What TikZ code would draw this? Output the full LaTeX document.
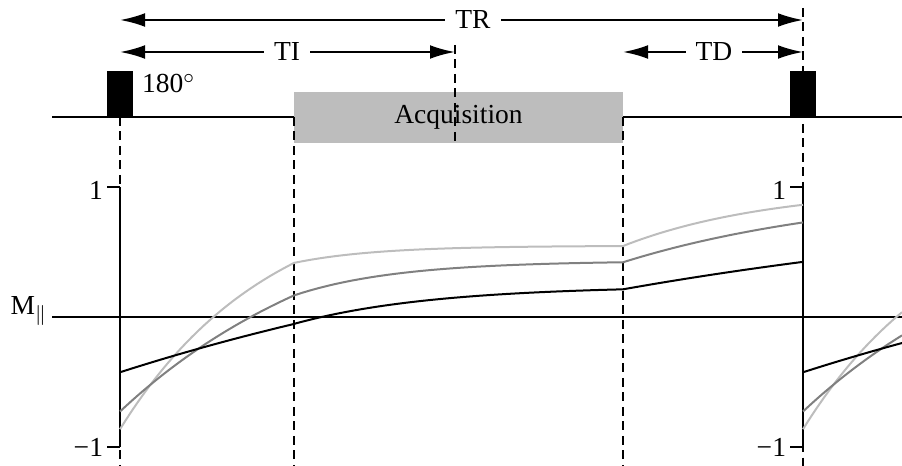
\documentclass[tikz,border=0pt]{standalone}
\usepackage{fontspec}
\setmainfont{Liberation Serif}
\usetikzlibrary{arrows.meta}
\definecolor{lightcurve}{gray}{0.74}
\definecolor{midcurve}{gray}{0.5}
\definecolor{acqgray}{gray}{0.74}
\tikzset{
axisline/.style={line width=.8pt},
guideline/.style={line width=.8pt,dash pattern=on 3.6pt off 2.2pt},
spanarrow/.style={{Latex[length=10pt,width=5.5pt]}-{Latex[length=10pt,width=5.5pt]},line width=.8pt},
pulsebox/.style={fill=black,minimum width=10.4pt,minimum height=18pt,inner sep=0pt},
acqbox/.style={fill=acqgray,minimum width=131.6pt,minimum height=20.4pt,inner sep=0pt,font=\fontsize{11}{13}\selectfont},
curve/.style={line width=.8pt},
lbl/.style={font=\fontsize{11}{13}\selectfont,inner sep=1pt},
gaplbl/.style={lbl,fill=white,inner xsep=4pt}
}

\begin{document}
\begin{tikzpicture}[x=.4pt,y=.4pt]
\useasboundingbox (0,0) rectangle (902,466);
% time marks
\coordinate (inv1) at (120,349);
\coordinate (acqa) at (294,349);
\coordinate (acqb) at (623,349);
\coordinate (inv2) at (803,349);

% pulse line
\draw[axisline] (52,349) -- (902,349);
\node[pulsebox,anchor=south] (p1) at (inv1) {};
\node[pulsebox,anchor=south] (p2) at (inv2) {};
\node[lbl,anchor=base west] (flip) at (139,373) {180$^\circ$};
\node[acqbox] (acq) at (458.5,348.5) {Acquisition};

% spans
\coordinate (trL) at (120,446); \coordinate (trR) at (803,446);
\coordinate (tiL) at (120,414); \coordinate (tiR) at (455,414);
\coordinate (tdL) at (623,414); \coordinate (tdR) at (803,414);
\draw[spanarrow] (trL) -- (trR);
\draw[spanarrow] (tiL) -- (tiR);
\draw[spanarrow] (tdL) -- (tdR);
\node[gaplbl] (tr) at (473,446) {TR};
\node[gaplbl] (ti) at (287,414) {TI};
\node[gaplbl] (td) at (714,414) {TD};

% guides
\coordinate (g1) at (120,0);
\coordinate (g2) at (294,0);
\coordinate (g3) at (623,0);
\coordinate (g4top) at (803,458); \coordinate (g4) at (803,0);
\coordinate (g5top) at (455,421); \coordinate (g5) at (455,323);
\draw[guideline] (inv1) -- (g1);
\draw[guideline] (acqa) -- (g2);
\draw[guideline] (acqb) -- (g3);
\draw[guideline] (g4top) -- (g4);
\draw[guideline] (g5top) -- (g5);

% magnetisation axes
\draw[axisline] (52,149) -- (902,149);
\node[lbl,anchor=base east] (mpar) at (50,151) {M$_{\|}$};
\foreach \ax in {120,803}{
  \draw[axisline] (\ax,19) -- (\ax,279);
  \draw[axisline] (\ax-13,279) -- (\ax,279);
  \draw[axisline] (\ax-13,19) -- (\ax,19);
  \node[lbl,anchor=east] (one\ax) at (\ax-14,276) {1};
  \node[lbl,anchor=east] (mone\ax) at (\ax-14,19) {−1};
}

% recovery curves
\foreach \col/\tone/\mzero/\mone/\mtwo/\mss/\te in {lightcurve/150/-0.863/0.416/0.546/0.548/82.2,midcurve/239/-0.727/0.166/0.421/0.432/103.3,black/576/-0.425/-0.053/0.213/0.240/138.2}{
  \begin{scope}[shift={(120,149)},yscale=130]
    \draw[curve,\col] plot[domain=0:174,samples=30] (\x,{1-(1-(\mzero))*exp(-\x/\tone)})
      -- plot[domain=174:503,samples=40] (\x,{\mss+((\mone)-\mss)*exp(-(\x-174)/\te)})
      -- plot[domain=503:683,samples=30] (\x,{1-(1-\mtwo)*exp(-(\x-503)/\tone)});
  \end{scope}
  \begin{scope}[shift={(803,149)},yscale=130]
    \draw[curve,\col] plot[domain=0:99,samples=20] (\x,{1-(1-(\mzero))*exp(-\x/\tone)});
  \end{scope}
}
\end{tikzpicture}
\end{document}
